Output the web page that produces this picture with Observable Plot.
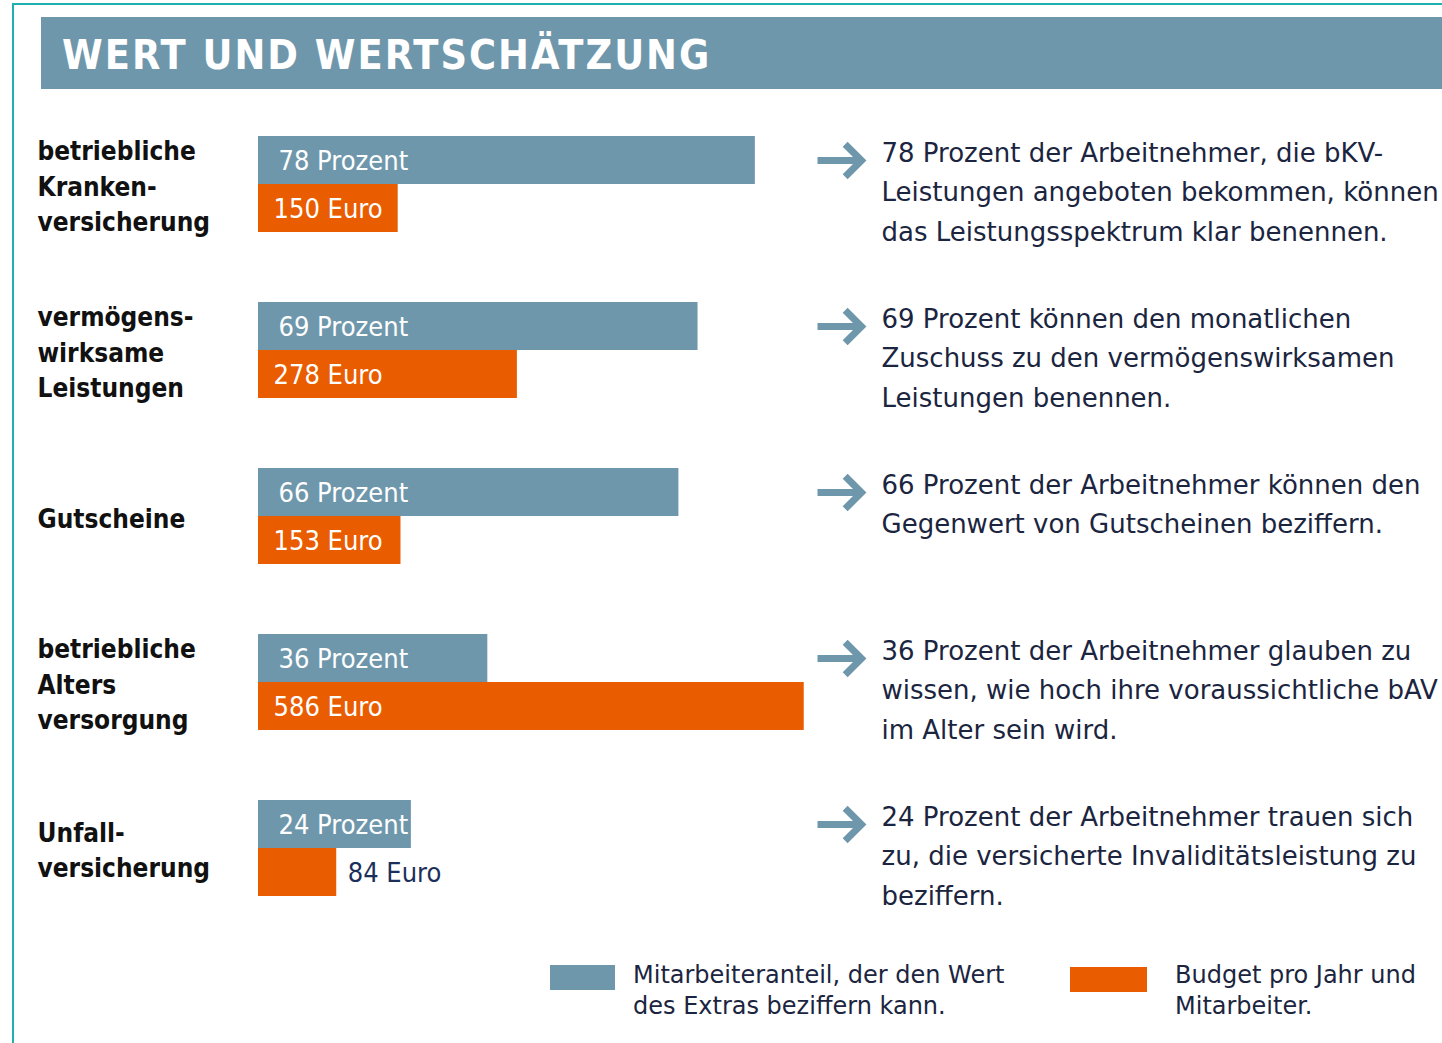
<!DOCTYPE html>
<html>
<head>
<meta charset="utf-8">
<script src="https://cdn.jsdelivr.net/npm/d3@7"></script>
<script src="https://cdn.jsdelivr.net/npm/@observablehq/plot@0.6"></script>
<style>
  html, body { margin: 0; padding: 0; background: #fff; }
  body { width: 1442px; height: 1043px; position: relative; overflow: hidden;
         font-family: "DejaVu Sans", sans-serif; }
  #frame { position: absolute; left: 12px; top: 3px; width: 1460px; height: 1100px;
           border-top: 2px solid #1fb0b0; border-left: 2px solid #1fb0b0; }
  #title { position: absolute; left: 41px; top: 17px; width: 1420px; height: 72px;
           background: #6f97ac; color: #fff; font-weight: bold; font-size: 41px;
           font-family: "DejaVu Sans Condensed", "DejaVu Sans", sans-serif; font-stretch: condensed;
           letter-spacing: 2px; line-height: 76px; padding-left: 21px; box-sizing: border-box; }
  #chart { position: absolute; left: 0; top: 100px; }
  .leg { position: absolute; top: 960px; display: flex; align-items: flex-start; }
  .sw { width: 65px; height: 25px; margin-top: 5px; }
  .lt { font-size: 24px; line-height: 31px; color: #1b2540; margin-left: 18px; letter-spacing: 0px; }
</style>
</head>
<body>
<div id="frame"></div>
<div id="title">WERT UND WERTSCHÄTZUNG</div>
<div id="chart"></div>
<div class="leg" style="left:550px"><div class="sw" style="background:#6f97ac"></div><div class="lt" id="leg1"></div></div>
<div class="leg" style="left:1070px"><div class="sw" style="background:#ea5c00;width:77px;margin-top:7px"></div><div class="lt" id="leg2" style="margin-left:28px"></div></div>
<script>
// ---- data ----
const categories = [
  "betriebliche\nKranken-\nversicherung",
  "vermögens-\nwirksame\nLeistungen",
  "Gutscheine",
  "betriebliche\nAlters\nversorgung",
  "Unfall-\nversicherung"
];
const percentValues = [78, 69, 66, 36, 24];
const euroValues = [150, 278, 153, 586, 84];
const notes = [
  "78 Prozent der Arbeitnehmer, die bKV-\nLeistungen angeboten bekommen, können\ndas Leistungsspektrum klar benennen.",
  "69 Prozent können den monatlichen\nZuschuss zu den vermögenswirksamen\nLeistungen benennen.",
  "66 Prozent der Arbeitnehmer können den\nGegenwert von Gutscheinen beziffern.",
  "36 Prozent der Arbeitnehmer glauben zu\nwissen, wie hoch ihre voraussichtliche bAV\nim Alter sein wird.",
  "24 Prozent der Arbeitnehmer trauen sich\nzu, die versicherte Invaliditätsleistung zu\nbeziffern."
];
const legendLabels = [
  "Mitarbeiteranteil, der den Wert\ndes Extras beziffern kann.",
  "Budget pro Jahr und\nMitarbeiter."
];

// ---- styles ----
const BLUE = "#6f97ac", ORANGE = "#ea5c00", NAVY = "#1b2540";
const EURO_TO_X = 0.1462; // euro values drawn on the percent axis (display factor)

const rows = categories.map((c, i) => ({
  cat: c, pct: percentValues[i], eur: euroValues[i], eurX: euroValues[i] * EURO_TO_X, note: notes[i],
  pctLabel: percentValues[i] + " Prozent", eurLabel: euroValues[i] + " Euro"
}));
const inside = d => d.eur > 120;
const COND = "'DejaVu Sans Condensed', 'DejaVu Sans', sans-serif";

const chart = Plot.plot({
  width: 1442,
  height: 830,
  marginLeft: 258,
  marginRight: 547,
  marginTop: 36,
  marginBottom: 34,
  style: { fontFamily: "'DejaVu Sans', sans-serif", background: "transparent" },
  x: { domain: [0, 100], axis: null },
  y: { domain: categories, type: "band", paddingInner: 0.4217, paddingOuter: 0, align: 0, axis: null },
  marks: [
    Plot.barX(rows, { y: "cat", x1: 0, x2: "pct", fill: BLUE, insetBottom: 48 }),
    Plot.barX(rows, { y: "cat", x1: 0, x2: "eurX", fill: ORANGE, insetTop: 48 }),
    Plot.text(rows, { y: "cat", x: 0, text: "pctLabel", textAnchor: "start", dx: 20, dy: -23,
      fill: "white", fontSize: 27, fontFamily: COND, fontStretch: "condensed" }),
    Plot.text(rows.filter(inside), { y: "cat", x: 0, text: "eurLabel", textAnchor: "start", dx: 15, dy: 25,
      fill: "white", fontSize: 27, fontFamily: COND, fontStretch: "condensed" }),
    Plot.text(rows.filter(d => !inside(d)), { y: "cat", x: "eurX", text: "eurLabel", textAnchor: "start", dx: 11, dy: 25,
      fill: "#1c2f5a", fontSize: 27, fontFamily: COND, fontStretch: "condensed" }),
    Plot.text(rows, { y: "cat", frameAnchor: "left", text: "cat", textAnchor: "start", dx: -221,
      lineAnchor: "middle", lineHeight: 1.36, fill: "#111", fontWeight: "bold", fontSize: 26,
      fontFamily: COND, fontStretch: "condensed" }),
    Plot.vector(rows, { y: "cat", frameAnchor: "right", dx: -78, dy: -24, rotate: 90, length: 44, anchor: "start",
      r: 6.5, stroke: BLUE, strokeWidth: 7, strokeLinecap: "butt", strokeLinejoin: "miter" }),
    Plot.text(rows, { y: "cat", frameAnchor: "right", text: "note", textAnchor: "start", dx: -14, dy: -51,
      lineAnchor: "top", lineHeight: 1.52, fill: NAVY, fontSize: 26 })
  ]
});
document.getElementById("chart").appendChild(chart);
document.getElementById("leg1").innerHTML = legendLabels[0].replace("\n", "<br>");
document.getElementById("leg2").innerHTML = legendLabels[1].replace("\n", "<br>");
</script>
</body>
</html>
